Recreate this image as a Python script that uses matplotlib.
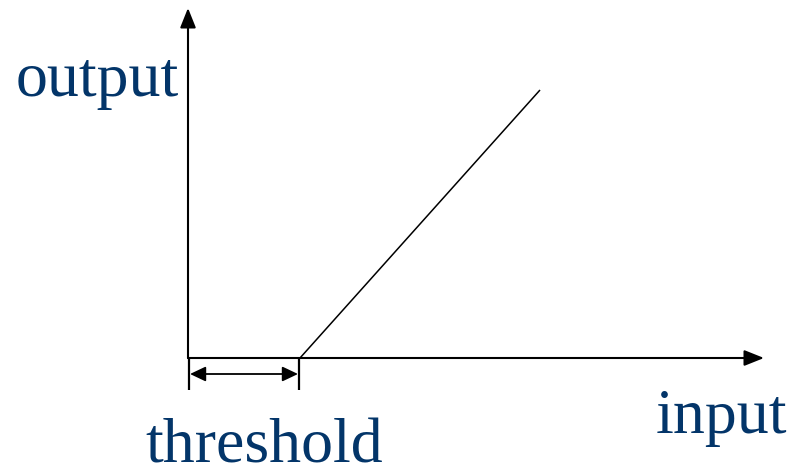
import matplotlib.pyplot as plt

# diagram geometry (in image pixel coordinates, y grows downward)
origin = (188, 358)
y_axis_top = 8
x_axis_end = 764
threshold_x = 300
response_x = [300, 540]
response_y = [358, 90]
tick_bottom = 390
span_y = 374

labels = {'output': (16, 96), 'threshold': (145, 462), 'input': (656, 433)}
text_color = '#033569'

fig = plt.figure(figsize=(7.91, 4.65), dpi=100)
ax = fig.add_axes([0, 0, 1, 1])
ax.set_xlim(0, 791)
ax.set_ylim(465, 0)
ax.axis('off')


def arrow(start, end, lw, style):
    ax.annotate('', xy=end, xytext=start,
                arrowprops=dict(arrowstyle=style, lw=lw, color='black',
                                shrinkA=0, shrinkB=0, mutation_scale=1))


head = '-|>,head_length=12,head_width=4.8'
arrow(origin, (origin[0], y_axis_top), 1.5, head)
arrow(origin, (x_axis_end, origin[1]), 1.5, head)

# response curve
ax.plot(response_x, response_y, color='black', lw=1.1, solid_capstyle='butt')

# threshold markers
for x in (origin[0] + 1, threshold_x - 1):
    ax.plot([x, x], [origin[1], tick_bottom], color='black', lw=1.6,
            solid_capstyle='butt')
arrow((origin[0] + 2, span_y), (threshold_x - 2, span_y), 1.3,
      '<|-|>,head_length=9.5,head_width=4.5')

for txt, (x, y) in labels.items():
    ax.text(x, y, txt, fontsize=46, family='Liberation Serif',
            color=text_color, ha='left', va='baseline')

fig.savefig('out.png', dpi=100)
